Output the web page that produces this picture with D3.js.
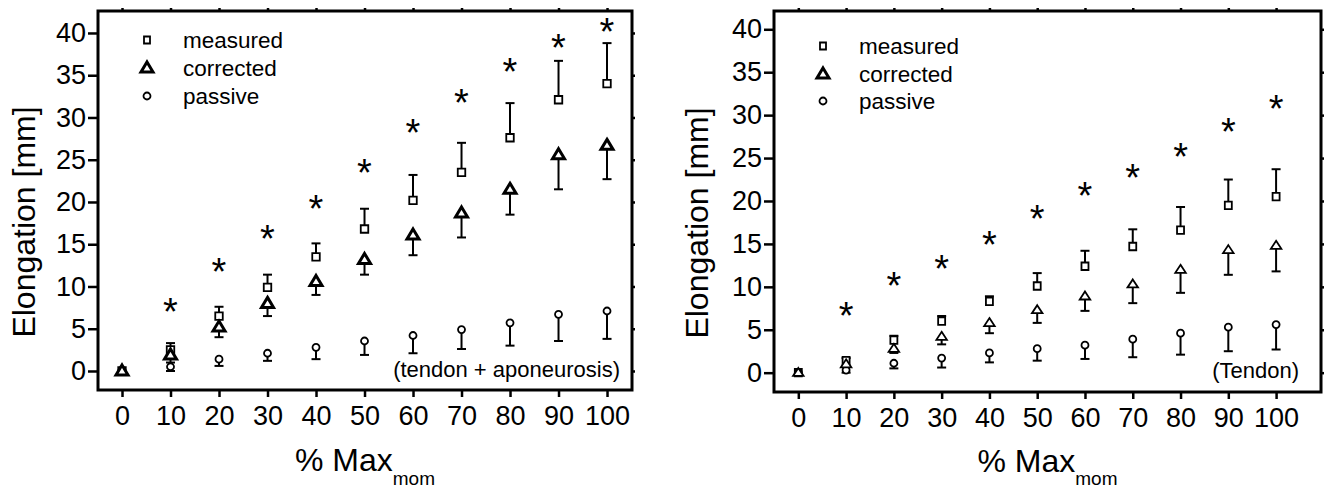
<!DOCTYPE html>
<html>
<head>
<meta charset="utf-8">
<script src="https://cdn.jsdelivr.net/npm/d3@7"></script>
<style>
  body { margin: 0; background: #fff; }
  svg { display: block; font-family: "Liberation Sans", Arial, sans-serif; }
  .frame { fill: none; stroke: #000; stroke-width: 3; }
  .axis path { display: none; }
  .axis line { stroke: #000; stroke-width: 2.5; }
  .axis text { font-size: 27px; fill: #000; font-family: "Liberation Sans", Arial, sans-serif; }
  .err { stroke: #000; stroke-width: 2; fill: none; }
  .mark { fill: #fff; stroke: #000; }
  .star { font-size: 38px; text-anchor: middle; }
  .legend text { font-size: 22.5px; }
  .note { font-size: 22px; text-anchor: end; }
  .title { font-size: 32px; text-anchor: middle; }
</style>
</head>
<body>
<div id="chart"></div>
<script>
var pctLevels = [0, 10, 20, 30, 40, 50, 60, 70, 80, 90, 100];
var yTicks = [0, 5, 10, 15, 20, 25, 30, 35, 40];
var legendLabels = ['measured', 'corrected', 'passive'];

// tendon + aponeurosis
var leftMeasured    = [0, 2.5, 6.5, 9.9, 13.5, 16.8, 20.2, 23.5, 27.6, 32.1, 34.0];
var leftMeasuredErr = [0, 0.8, 1.1, 1.5, 1.6, 2.4, 3.0, 3.5, 4.1, 4.6, 4.8];
var leftCorrected   = [0, 1.9, 5.2, 8.0, 10.6, 13.2, 16.1, 18.7, 21.5, 25.6, 26.7];
var leftCorrectedErr= [0, 0.9, 1.2, 1.5, 1.6, 1.8, 2.4, 2.9, 3.0, 4.1, 4.0];
var leftPassive     = [0, 0.5, 1.4, 2.1, 2.8, 3.55, 4.2, 4.9, 5.7, 6.7, 7.1];
var leftPassiveErr  = [0, 0.5, 0.8, 0.9, 1.4, 1.65, 2.1, 2.3, 2.7, 3.15, 3.3];
var leftStars       = [null, 8.0, 12.7, 16.7, 20.2, 24.4, 29.2, 32.7, 36.4, 39.2, 41.1];

// tendon
var rightMeasured    = [0, 1.4, 3.8, 6.0, 8.3, 10.1, 12.4, 14.7, 16.6, 19.5, 20.5];
var rightMeasuredErr = [0, 0.3, 0.5, 0.6, 0.6, 1.5, 1.8, 2.0, 2.7, 3.0, 3.2];
var rightCorrected   = [0, 1.0, 2.8, 4.2, 5.8, 7.3, 8.9, 10.3, 12.0, 14.3, 14.8];
var rightCorrectedErr= [0, 0.3, 0.5, 0.9, 1.2, 1.5, 1.7, 2.2, 2.7, 2.9, 3.0];
var rightPassive     = [0, 0.3, 1.1, 1.7, 2.3, 2.8, 3.2, 3.9, 4.6, 5.3, 5.6];
var rightPassiveErr  = [0, 0.3, 0.6, 1.1, 1.1, 1.4, 1.6, 2.1, 2.5, 2.8, 2.9];
var rightStars       = [null, 7.6, 11.1, 13.1, 15.9, 18.9, 21.6, 23.7, 26.1, 29.0, 31.7];

!(function (global) {

  global.APP = global.APP || {};
  var chart = global.APP.elongChart = {};

  chart.shape = function (kind, size, ctx) {
    var w = size[0], h = size[1];
    ctx = ctx || d3.path();
    if (kind === 'square') {
      ctx.rect(-w / 2, -h / 2, w, h);
    } else if (kind === 'triangle') {
      ctx.moveTo(0, -h * 0.6);
      ctx.lineTo(w / 2, h * 0.4);
      ctx.lineTo(-w / 2, h * 0.4);
      ctx.closePath();
    } else {
      ctx.arc(0, 0, w / 2, 0, 2 * Math.PI);
    }
    return ctx.toString();
  };

  chart.drawSeries = function (g, x, y, s) {
    var rows = pctLevels.map(function (p, i) {
      return { p: p, v: s.values[i], e: s.errors[i] };
    });

    var bars = g.append('g').selectAll('g')
      .data(rows.filter(function (d) { return d.e > 0; }))
      .enter().append('g').attr('class', 'err');

    bars.append('line')
      .attr('x1', function (d) { return x(d.p); })
      .attr('x2', function (d) { return x(d.p); })
      .attr('y1', function (d) { return y(d.v); })
      .attr('y2', function (d) { return y(d.v + s.dir * d.e); });

    bars.append('line')
      .attr('x1', function (d) { return x(d.p) - 4.5; })
      .attr('x2', function (d) { return x(d.p) + 4.5; })
      .attr('y1', function (d) { return y(d.v + s.dir * d.e); })
      .attr('y2', function (d) { return y(d.v + s.dir * d.e); });

    g.append('g').selectAll('path')
      .data(rows)
      .enter().append('path')
      .attr('class', 'mark')
      .attr('stroke-width', s.stroke)
      .attr('d', chart.shape(s.shape, s.size))
      .attr('transform', function (d) {
        return 'translate(' + x(d.p) + ',' + y(d.v) + ')';
      });
  };

  chart.drawPanel = function (svg, cfg) {
    var x = d3.scaleLinear().domain(cfg.xDomain).range([cfg.left, cfg.right]),
        y = d3.scaleLinear().domain(cfg.yDomain).range([cfg.bottom, cfg.top]),
        g = svg.append('g');

    g.append('g').attr('class', 'axis')
      .attr('transform', 'translate(0,' + cfg.bottom + ')')
      .call(d3.axisBottom(x).tickValues(pctLevels).tickSize(7).tickPadding(9));
    g.append('g').attr('class', 'axis')
      .attr('transform', 'translate(' + cfg.left + ',0)')
      .call(d3.axisLeft(y).tickValues(yTicks).tickSize(10).tickPadding(2));
    g.append('g').attr('class', 'axis')
      .attr('transform', 'translate(0,' + cfg.top + ')')
      .call(d3.axisTop(x).tickValues(pctLevels).tickSize(3).tickFormat(''));
    g.append('g').attr('class', 'axis')
      .attr('transform', 'translate(' + cfg.right + ',0)')
      .call(d3.axisRight(y).tickValues(yTicks).tickSize(3).tickFormat(''));

    g.append('rect').attr('class', 'frame')
      .attr('x', cfg.left).attr('y', cfg.top)
      .attr('width', cfg.right - cfg.left)
      .attr('height', cfg.bottom - cfg.top);

    cfg.series.forEach(function (s) { chart.drawSeries(g, x, y, s); });

    g.append('g').selectAll('text')
      .data(pctLevels.map(function (p, i) { return { p: p, v: cfg.stars[i] }; })
        .filter(function (d) { return d.v !== null; }))
      .enter().append('text')
      .attr('class', 'star')
      .attr('x', function (d) { return x(d.p); })
      .attr('y', function (d) { return y(d.v); })
      .attr('dy', '0.57em')
      .text('*');

    // legend
    var lg = g.append('g').attr('class', 'legend');
    cfg.legendShapes.forEach(function (s, i) {
      lg.append('path')
        .attr('class', 'mark')
        .attr('stroke-width', s.stroke)
        .attr('d', chart.shape(s.shape, s.size))
        .attr('transform', 'translate(' + cfg.legendX + ',' + cfg.legendRows[i] + ')');
      lg.append('text')
        .attr('x', cfg.legendTextX)
        .attr('y', cfg.legendRows[i])
        .attr('dy', '0.36em')
        .text(legendLabels[i]);
    });

    g.append('text').attr('class', 'note')
      .attr('x', cfg.noteX).attr('y', cfg.noteY)
      .text(cfg.note);

    g.append('text').attr('class', 'title')
      .attr('transform', 'translate(' + cfg.yTitleX + ',' + cfg.yTitleY + ') rotate(-90)')
      .text('Elongation [mm]');

    var xt = g.append('text').attr('class', 'title')
      .attr('x', (cfg.left + cfg.right) / 2)
      .attr('y', cfg.xTitleY);
    xt.append('tspan').text('% Max');
    xt.append('tspan').attr('dy', cfg.subDy).style('font-size', '19px').text('mom');
  };

  var svg = d3.select('#chart').append('svg')
    .attr('width', 1329)
    .attr('height', 490);

  svg.append('rect').attr('width', 1329).attr('height', 490).attr('fill', '#fff');

  var legendShapes = [
    { shape: 'square', size: [6, 7], stroke: 1.8 },
    { shape: 'triangle', size: [12, 10], stroke: 3 },
    { shape: 'circle', size: [7, 7], stroke: 1.8 }
  ];

  chart.drawPanel(svg, {
    left: 98, right: 632, top: 11, bottom: 390,
    xDomain: [-4.95, 105.15], yDomain: [-2.25, 42.6],
    series: [
      { values: leftMeasured, errors: leftMeasuredErr, dir: 1, shape: 'square', size: [7.5, 7.5], stroke: 1.8 },
      { values: leftPassive, errors: leftPassiveErr, dir: -1, shape: 'circle', size: [7, 7], stroke: 1.8 },
      { values: leftCorrected, errors: leftCorrectedErr, dir: -1, shape: 'triangle', size: [12, 10], stroke: 3 }
    ],
    stars: leftStars,
    legendShapes: legendShapes,
    legendX: 147, legendTextX: 183, legendRows: [40, 68, 96],
    note: '(tendon + aponeurosis)', noteX: 620, noteY: 377,
    yTitleX: 35, yTitleY: 222,
    xTitleY: 471, subDy: 14
  });

  chart.drawPanel(svg, {
    left: 774, right: 1321, top: 11, bottom: 392,
    xDomain: [-5.09, 109.4], yDomain: [-2.25, 42.13],
    series: [
      { values: rightMeasured, errors: rightMeasuredErr, dir: 1, shape: 'square', size: [7, 7.5], stroke: 1.8 },
      { values: rightPassive, errors: rightPassiveErr, dir: -1, shape: 'circle', size: [7, 7], stroke: 1.8 },
      { values: rightCorrected, errors: rightCorrectedErr, dir: -1, shape: 'triangle', size: [10.5, 8], stroke: 1.8 }
    ],
    stars: rightStars,
    legendShapes: legendShapes,
    legendX: 823, legendTextX: 859, legendRows: [46, 74, 101],
    note: '(Tendon)', noteX: 1299, noteY: 378,
    yTitleX: 708, yTitleY: 223,
    xTitleY: 472, subDy: 13
  });

})(this);
</script>
</body>
</html>
